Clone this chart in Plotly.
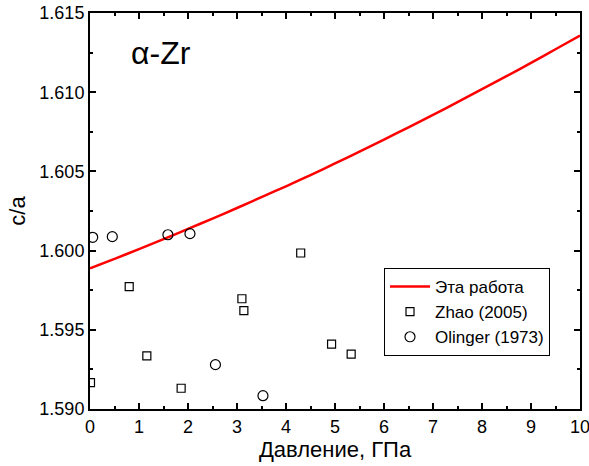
import plotly.graph_objects as go

# Calculated curve ("Эта работа")
p_calc = [0, 0.5, 1, 1.5, 2, 2.5, 3, 3.5, 4, 4.5, 5, 5.5, 6, 6.5, 7, 7.5, 8, 8.5, 9, 9.5, 10]
ca_calc = [1.59888, 1.59948, 1.60009, 1.60072, 1.60137, 1.60202, 1.60269, 1.60338, 1.60406,
           1.60477, 1.60550, 1.60625, 1.60701, 1.60778, 1.60857, 1.60937, 1.61019, 1.61101,
           1.61185, 1.61271, 1.61358]

# Zhao (2005)
p_zhao = [0.01, 0.80, 1.16, 1.86, 3.10, 3.14, 4.30, 4.93, 5.33]
ca_zhao = [1.59166, 1.59772, 1.59336, 1.59131, 1.59696, 1.59621, 1.59985, 1.59410, 1.59347]

# Olinger (1973)
p_olinger = [0.055, 0.455, 1.59, 2.04, 2.56, 3.53]
ca_olinger = [1.60084, 1.60088, 1.60100, 1.60107, 1.59280, 1.59084]

y_ticks = [1.590, 1.595, 1.600, 1.605, 1.610, 1.615]
x_ticks = [0, 1, 2, 3, 4, 5, 6, 7, 8, 9, 10]

FONT = "Liberation Sans, Arial, sans-serif"

fig = go.Figure()
fig.add_trace(go.Scatter(x=p_calc, y=ca_calc, mode="lines", name="Эта работа",
                         line=dict(color="#ff0000", width=2.5, shape="spline", smoothing=0.8)))
fig.add_trace(go.Scatter(x=p_zhao, y=ca_zhao, mode="markers", name="Zhao (2005)",
                         marker=dict(symbol="square-open", size=8, color="black",
                                     line=dict(width=1.2, color="black"))))
fig.add_trace(go.Scatter(x=p_olinger, y=ca_olinger, mode="markers", name="Olinger (1973)",
                         marker=dict(symbol="circle-open", size=10, color="black",
                                     line=dict(width=1.2, color="black"))))

axis_common = dict(showline=True, linecolor="black", linewidth=2, mirror="allticks",
                   ticks="inside", ticklen=6, tickwidth=1.5, tickcolor="black",
                   showgrid=False, zeroline=False, automargin=False,
                   ticklabeloverflow="allow",
                   tickfont=dict(family=FONT, size=18, color="black"))

fig.update_xaxes(range=[0, 10], tickvals=x_ticks,
                 minor=dict(ticks="inside", ticklen=3, tickwidth=1.5, tickcolor="black", dtick=0.5),
                 title=dict(text="Давление, ГПа", font=dict(family=FONT, size=22, color="black"),
                            standoff=0),
                 **axis_common)
fig.update_yaxes(range=[1.590, 1.615], tickvals=y_ticks, tickformat=".3f",
                 minor=dict(ticks="inside", ticklen=3, tickwidth=1.5, tickcolor="black", dtick=0.0025),
                 title=dict(text="c/a", font=dict(family=FONT, size=22, color="black"),
                            standoff=8),
                 **axis_common)

fig.add_annotation(text="α-Zr", xref="paper", yref="paper", x=0.145, y=0.899,
                   xanchor="center", yanchor="middle",
                   showarrow=False, font=dict(family=FONT, size=32, color="black"))

fig.update_layout(
    width=589, height=466,
    margin=dict(l=90, r=9, t=13, b=57),
    plot_bgcolor="white", paper_bgcolor="white",
    showlegend=True,
    legend=dict(x=0.6, y=0.356, xanchor="left", yanchor="top",
                bordercolor="black", borderwidth=1, bgcolor="white",
                font=dict(family=FONT, size=17, color="black"),
                tracegroupgap=0, itemwidth=40),
)

fig.write_html("out.html",
               config={"displayModeBar": False},
               post_script="document.body.style.margin='0';document.body.style.overflow='hidden';")
